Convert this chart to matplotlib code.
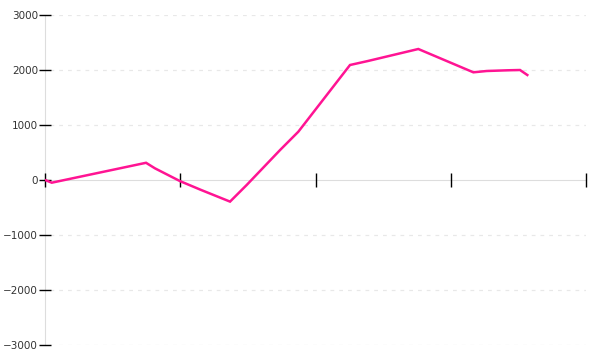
import matplotlib
matplotlib.use("Agg")
import matplotlib.pyplot as plt

# values (x in arbitrary units, ticks every 10)
t = [0, 0.5, 7.47, 8.13, 9.98, 11.53, 13.68, 14.91, 17.38, 18.73,
     22.55, 23.88, 27.6, 31.67, 32.66, 34.23, 35.12, 35.66]
values = [0, -49, 313, 212, -20, -180, -393, -91, 545, 878,
          2091, 2164, 2382, 1958, 1982, 1995, 2000, 1909]
y_ticks = [-3000, -2000, -1000, 0, 1000, 2000, 3000]
x_ticks = [0, 10, 20, 30, 40]

fig = plt.figure(figsize=(6, 3.6), dpi=100)
ax = fig.add_axes([0.075, 0.0417, 0.9017, 0.9166])

for v in y_ticks:
    if v != 0:
        ax.axhline(v, color="#e8e8e8", lw=0.9, ls=(0, (3, 4)), xmin=0.01, zorder=0)

ax.plot(t, values, color="#ff1493", lw=1.8, solid_joinstyle="miter", zorder=2)

ax.set_xlim(0, 40)
ax.set_ylim(-3000, 3000)
ax.set_xticks(x_ticks)
ax.set_xticklabels([])
ax.set_yticks(y_ticks)
ax.set_yticklabels([str(v).replace("-", "\u2212") for v in y_ticks])

for s in ["top", "right"]:
    ax.spines[s].set_visible(False)
ax.spines["bottom"].set_position(("data", 0))
ax.spines["bottom"].set_color("#dddddd")
ax.spines["left"].set_color("#dddddd")
ax.spines["left"].set_zorder(0.5)
ax.spines["bottom"].set_zorder(0.5)
ax.tick_params(axis="x", direction="inout", length=10, width=1, color="black")
ax.tick_params(axis="y", direction="inout", length=8, width=1, color="black",
               labelsize=7.5, labelcolor="#333333", pad=1)

fig.savefig("out.png", dpi=100)
